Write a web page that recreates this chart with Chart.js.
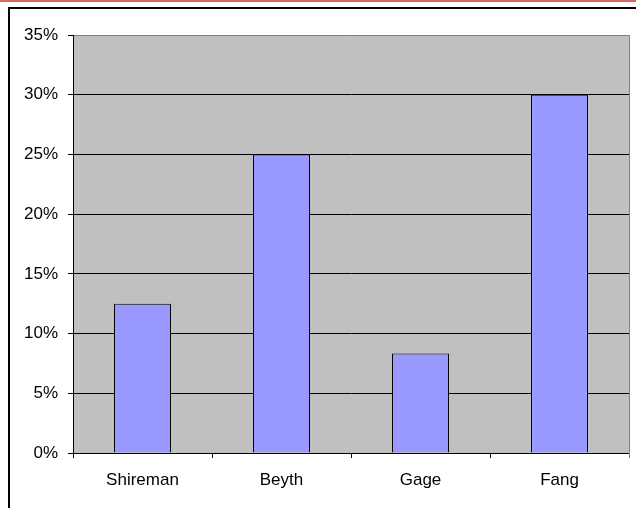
<!DOCTYPE html>
<html>
<head>
<meta charset="utf-8">
<script src="https://cdn.jsdelivr.net/npm/chart.js@4/dist/chart.umd.min.js"></script>
<style>
html,body{margin:0;padding:0;background:#fff;}
#wrap{position:relative;width:636px;height:508px;overflow:hidden;}
canvas{display:block;}
</style>
</head>
<body>
<div id="wrap"><canvas id="c" width="636" height="508"></canvas></div>
<script>
const categories = ["Shireman", "Beyth", "Gage", "Fang"];
const shares = [0.125, 0.25, 0.0833, 0.30];
const yTickValues = [0, 0.05, 0.10, 0.15, 0.20, 0.25, 0.30, 0.35];

const frame = {
  id: 'frame',
  beforeDraw(chart) {
    const ctx = chart.ctx, a = chart.chartArea;
    ctx.save();
    ctx.fillStyle = '#fff';
    ctx.fillRect(0, 0, chart.width, chart.height);
    ctx.fillStyle = '#E06666';
    ctx.fillRect(0, 0, chart.width, 2);
    ctx.fillStyle = '#000';
    ctx.fillRect(8, 7, chart.width - 8, 2);
    ctx.fillRect(8, 7, 2, chart.height - 7);
    ctx.fillStyle = '#C0C0C0';
    ctx.fillRect(a.left, a.top, a.right - a.left, a.bottom - a.top);
    ctx.restore();
  },
  afterDatasetsDraw(chart) {
    const ctx = chart.ctx, a = chart.chartArea;
    ctx.save();
    ctx.strokeStyle = '#808080';
    ctx.lineWidth = 1;
    ctx.beginPath();
    ctx.moveTo(a.right + 0.5, a.top);
    ctx.lineTo(a.right + 0.5, a.bottom + 5);
    ctx.stroke();
    ctx.restore();
  }
};

new Chart(document.getElementById('c'), {
  type: 'bar',
  data: {
    labels: categories,
    datasets: [{
      data: shares,
      backgroundColor: '#9999FF',
      borderColor: '#000000',
      borderWidth: 1,
      categoryPercentage: 1.0,
      barPercentage: 0.41
    }]
  },
  options: {
    responsive: false,
    animation: false,
    devicePixelRatio: 1,
    layout: { padding: { left: 0, top: 35, right: 7, bottom: 0 } },
    plugins: { legend: { display: false }, tooltip: { enabled: false } },
    scales: {
      x: {
        afterFit(s) { s.height = 55; },
        grid: { drawOnChartArea: false, drawTicks: true, tickLength: 5, tickColor: '#000', offset: true },
        border: { color: '#000', width: 1 },
        ticks: { color: '#000', font: { family: 'Liberation Sans, Arial', size: 17 }, padding: 12, maxRotation: 0 }
      },
      y: {
        min: 0, max: 0.35,
        afterFit(s) { s.width = 73; },
        afterBuildTicks(s) { s.ticks = yTickValues.map(v => ({ value: v })); },
        grid: {
          color: ctx => (ctx.tick && ctx.tick.value >= 0.349) ? '#808080' : '#000',
          lineWidth: 1, drawTicks: true, tickLength: 5, tickColor: '#000'
        },
        border: { color: '#000', width: 1 },
        ticks: {
          color: '#000', font: { family: 'Liberation Sans, Arial', size: 17 }, padding: 10,
          callback: v => Math.round(v * 100) + '%'
        }
      }
    }
  },
  plugins: [frame]
});
</script>
</body>
</html>
